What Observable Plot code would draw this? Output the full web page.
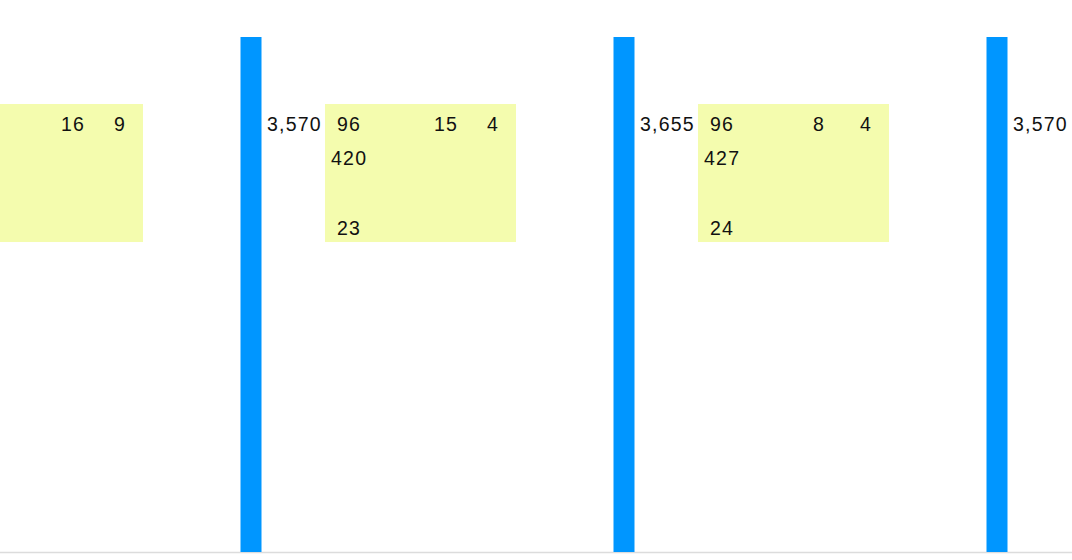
<!DOCTYPE html>
<html>
<head>
<meta charset="utf-8">
<script src="https://cdn.jsdelivr.net/npm/d3@7"></script>
<script src="https://cdn.jsdelivr.net/npm/@observablehq/plot@0.6"></script>
<style>
  html, body { margin: 0; padding: 0; background: #fff; overflow: hidden; }
  #chart svg { display: block; }
</style>
</head>
<body>
<div id="chart"></div>
<script>
// ---- data ----
const barGroups   = [0, 1, 2];
const barValues   = [3570, 3655, 3570];

const boxGroups   = [-1, 0, 1];
const topLeft     = [null, 96, 96];
const topMid      = [16, 15, 8];
const topRight    = [9, 4, 4];
const midLeft     = [null, 420, 427];
const bottomLeft  = [null, 23, 24];

// ---- layout (group units / row units) ----
const colOffset = {left: 0.2614, mid: 0.5214, right: 0.6475};
const rowY = {top: 83.1, mid: 76.5, bottom: 62.9};
const boxStart = 0.1997, boxEnd = 0.7118;
const boxBottom = 60.19, boxTop = 86.99;

const bars = barGroups.map((g, i) => ({g, v: barValues[i]}));
const boxes = boxGroups.map(g => ({g}));
const cells = [];
boxGroups.forEach((g, i) => {
  [["left", "top", topLeft], ["mid", "top", topMid], ["right", "top", topRight],
   ["left", "mid", midLeft], ["left", "bottom", bottomLeft]].forEach(([c, r, arr]) => {
    if (arr[i] != null) cells.push({g, col: c, row: r, v: arr[i]});
  });
});

const W = 1072, H = 560;
const font = "'Liberation Sans', Arial, Helvetica, sans-serif";

const chart = Plot.plot({
  width: W,
  height: H,
  marginTop: 37,
  marginBottom: 8,
  marginLeft: 0,
  marginRight: 0,
  style: {fontFamily: font, fontSize: "19.5px", letterSpacing: "1.2px", background: "#fff"},
  x: {domain: [-250.5 / 373, (W - 250.5) / 373], axis: null},
  y: {domain: [0, 100], axis: null},
  marks: [
    Plot.rect(boxes, {x1: d => d.g + boxStart, x2: d => d.g + boxEnd, y1: boxBottom, y2: boxTop, fill: "#f4fcae", clip: true}),
    Plot.ruleY([0], {stroke: "#dcdcdc", strokeWidth: 1.5}),
    Plot.ruleX(bars, {x: "g", y1: 0, y2: 100, stroke: "#0096ff", strokeWidth: 21}),
    Plot.text(bars, {x: "g", y: rowY.top, text: d => d3.format(",")(d.v), dx: 16, textAnchor: "start", fill: "#111", fontSize: 19.5, clip: true}),
    Plot.text(cells, {x: d => d.g + colOffset[d.col], y: d => rowY[d.row], text: d => String(d.v), dx: 0.6, textAnchor: "middle", fill: "#111", fontSize: 19.5, clip: true})
  ]
});
document.getElementById("chart").appendChild(chart);
</script>
</body>
</html>
